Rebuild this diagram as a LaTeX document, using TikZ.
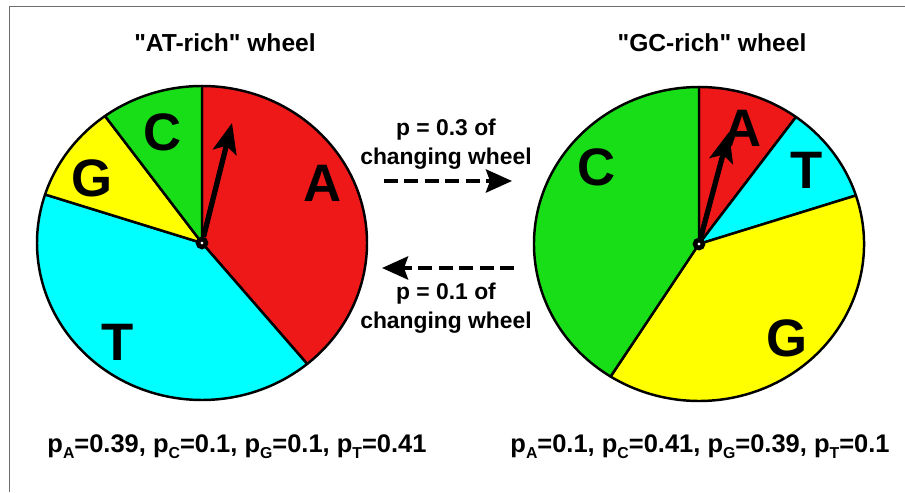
\documentclass[tikz,border=0pt]{standalone}
\usepackage{fontspec}
\setmainfont{Liberation Sans}
\usepackage{tikz}
\usepackage{xcolor}
\usetikzlibrary{arrows.meta}
\definecolor{wheelRed}{RGB}{238,24,24}
\definecolor{wheelGreen}{RGB}{24,222,24}
\definecolor{wheelYellow}{RGB}{255,255,0}
\definecolor{wheelCyan}{RGB}{0,255,255}
\definecolor{figFrame}{RGB}{110,110,110}
\newcommand{\lowsub}[1]{\raisebox{-0.45ex}{\fontsize{9}{9}\selectfont #1}}

\begin{document}
\begin{tikzpicture}[
  x=1cm,
  y=1cm,
  >=Latex,
  font=\bfseries,
  slice/.style={draw=black, line width=1.4pt, line join=round},
  hub/.style={circle, draw=black, fill=white, line width=2.6pt, minimum size=0.16cm, inner sep=0pt},
  pointer/.style={-{Stealth[length=0.6cm, width=0.48cm, inset=0.13cm]}, line width=3pt},
  letter/.style={font=\fontsize{30}{30}\selectfont\bfseries, inner sep=0pt},
  title/.style={font=\fontsize{14}{17}\selectfont\bfseries},
  rate/.style={font=\fontsize{13}{16.5}\selectfont\bfseries, align=center},
  probs/.style={font=\fontsize{14.5}{17}\selectfont\bfseries},
  switch/.style={-{Stealth[length=0.52cm, width=0.46cm, inset=0.08cm]}, line width=2.4pt, dash pattern=on 8pt off 3.6pt},
  frame/.style={draw=figFrame, line width=1.1pt}
]
\useasboundingbox (0,0) rectangle (18.1,9.84);
\draw[frame] (0.19,0) -- (0.19,9.71) -- (18.1,9.71);

\coordinate (lc) at (4.04,4.98);
\coordinate (rc) at (13.98,4.96);

% AT-rich wheel
\filldraw[slice, fill=wheelRed] (lc) -- ++(90:3.30 and 3.14) arc[start angle=90, end angle=-50.4, x radius=3.30, y radius=3.14] -- cycle;
\filldraw[slice, fill=wheelCyan] (lc) -- ++(-50.4:3.30 and 3.14) arc[start angle=-50.4, end angle=-198, x radius=3.30, y radius=3.14] -- cycle;
\filldraw[slice, fill=wheelYellow] (lc) -- ++(-198:3.30 and 3.14) arc[start angle=-198, end angle=-234, x radius=3.30, y radius=3.14] -- cycle;
\filldraw[slice, fill=wheelGreen] (lc) -- ++(-234:3.30 and 3.14) arc[start angle=-234, end angle=-270, x radius=3.30, y radius=3.14] -- cycle;

% GC-rich wheel
\filldraw[slice, fill=wheelRed] (rc) -- ++(90:3.30 and 3.14) arc[start angle=90, end angle=54, x radius=3.30, y radius=3.14] -- cycle;
\filldraw[slice, fill=wheelCyan] (rc) -- ++(54:3.30 and 3.14) arc[start angle=54, end angle=18, x radius=3.30, y radius=3.14] -- cycle;
\filldraw[slice, fill=wheelYellow] (rc) -- ++(18:3.30 and 3.14) arc[start angle=18, end angle=-122.4, x radius=3.30, y radius=3.14] -- cycle;
\filldraw[slice, fill=wheelGreen] (rc) -- ++(-122.4:3.30 and 3.14) arc[start angle=-122.4, end angle=-270, x radius=3.30, y radius=3.14] -- cycle;

\node[letter] (lA) at (6.46,6.18) {A};
\node[letter] (lC) at (3.26,7.20) {C};
\node[letter] (lG) at (1.84,6.28) {G};
\node[letter] (lT) at (2.36,3.00) {T};
\node[letter] (rC) at (11.94,6.50) {C};
\node[letter] (rA) at (14.86,7.27) {A};
\node[letter] (rT) at (16.14,6.44) {T};
\node[letter] (rG) at (15.74,3.08) {G};

\coordinate (ltip) at (4.64,7.38);
\coordinate (rtip) at (14.58,7.20);
\node[hub] (lhub) at (lc) {};
\node[hub] (rhub) at (rc) {};
\draw[pointer] (lhub) -- (ltip);
\draw[pointer] (rhub) -- (rtip);

\node[title] (atTitle) at (4.50,8.98) {\textquotedbl AT-rich\textquotedbl\ wheel};
\node[title] (gcTitle) at (14.24,8.98) {\textquotedbl GC-rich\textquotedbl\ wheel};

\node[rate] (fwdText) at (8.92,6.95) {p = 0.3 of\\changing wheel};
\node[rate] (bwdText) at (8.92,3.68) {p = 0.1 of\\changing wheel};

\coordinate (fwdL) at (7.68,6.22);
\coordinate (fwdR) at (10.24,6.22);
\coordinate (bwdR) at (10.28,4.48);
\coordinate (bwdL) at (7.64,4.48);
\draw[switch] (fwdL) -- (fwdR);
\draw[switch] (bwdR) -- (bwdL);

\node[probs] (atProbs) at (4.74,0.90) {p\lowsub{A}=0.39, p\lowsub{C}=0.1, p\lowsub{G}=0.1, p\lowsub{T}=0.41};
\node[probs] (gcProbs) at (14.00,0.90) {p\lowsub{A}=0.1, p\lowsub{C}=0.41, p\lowsub{G}=0.39, p\lowsub{T}=0.1};
\end{tikzpicture}
\end{document}
